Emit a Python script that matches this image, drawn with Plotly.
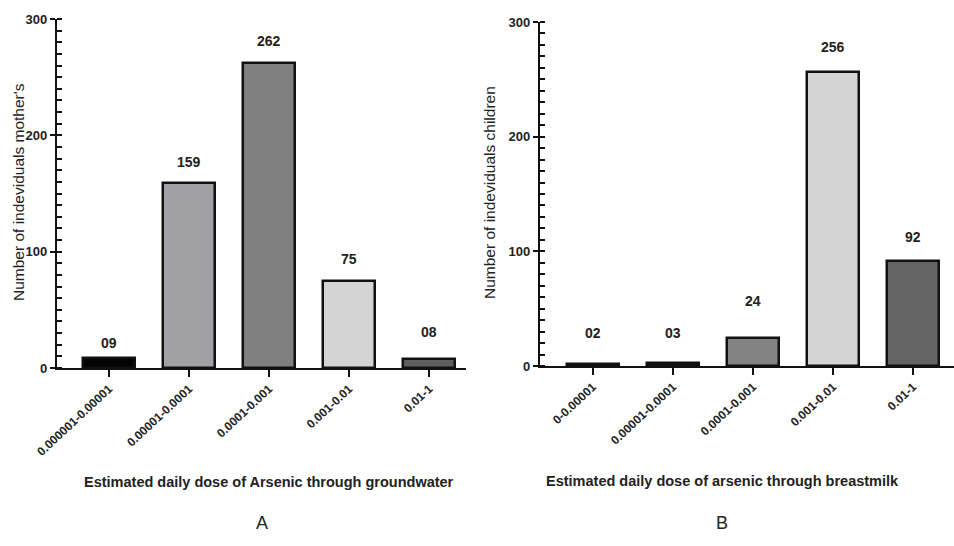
import plotly.graph_objects as go

# Panel A
cats_a = ["0.000001-0.00001", "0.00001-0.0001", "0.0001-0.001", "0.001-0.01", "0.01-1"]
vals_a = [9, 159, 262, 75, 8]
labels_a = ["09", "159", "262", "75", "08"]
colors_a = ["#050505", "#a1a1a5", "#808080", "#d4d4d4", "#5f5f5f"]

# Panel B
cats_b = ["0-0.00001", "0.00001-0.0001", "0.0001-0.001", "0.001-0.01", "0.01-1"]
vals_b = [2, 3, 24, 256, 92]
labels_b = ["02", "03", "24", "256", "92"]
colors_b = ["#1a1a1a", "#111111", "#828282", "#d4d4d4", "#646464"]

yticks = [0, 100, 200, 300]

# label offsets above bar tops (pixels) - styling only
shift_a = [15, 21, 22, 22, 27]
shift_b = [31, 30, 37, 25, 24]

FONT = "Liberation Sans, Arial, sans-serif"

fig = go.Figure()
fig.add_trace(go.Bar(x=cats_a, y=vals_a, marker=dict(color=colors_a, line=dict(color="#111", width=2.5)),
                     width=0.65, xaxis="x", yaxis="y", showlegend=False, hoverinfo="skip"))
fig.add_trace(go.Bar(x=cats_b, y=vals_b, marker=dict(color=colors_b, line=dict(color="#111", width=2.5)),
                     width=0.65, xaxis="x2", yaxis="y2", showlegend=False, hoverinfo="skip"))

W, H = 954, 546
def px(v): return v / W
def py(v): return 1 - v / H

xa_common = dict(type="category", showline=True, linecolor="#111", linewidth=2.4, automargin=False,
                 ticks="outside", ticklen=7, tickwidth=2.4, tickcolor="#111",
                 tickangle=-43, tickfont=dict(family=FONT, size=12, color="#222", weight="bold"),
                 showgrid=False, zeroline=False, fixedrange=True)
ya_common = dict(range=[0, 300], tickvals=yticks, showline=True, linecolor="#111", linewidth=2.4, automargin=False,
                 ticks="outside", ticklen=5, tickwidth=2.4, tickcolor="#111",
                 tickfont=dict(family=FONT, size=13, color="#222", weight="bold"),
                 minor=dict(dtick=10, ticks="inside", ticklen=5, tickwidth=1.8, tickcolor="#111"),
                 showgrid=False, zeroline=False, fixedrange=True)

fig.update_layout(
    template="none",
    width=W, height=H, margin=dict(l=0, r=0, t=0, b=0, autoexpand=False),
    paper_bgcolor="white", plot_bgcolor="white", bargap=0,
    xaxis=dict(domain=[px(57), px(466)], range=[-0.65, 4.46], anchor="y", **xa_common),
    yaxis=dict(domain=[py(368), py(19)], anchor="x", **ya_common),
    xaxis2=dict(domain=[px(540), 1.0], range=[-0.66, 4.51], anchor="y2", **xa_common),
    yaxis2=dict(domain=[py(366), py(22)], anchor="x2", **ya_common),
)

ann = []
for c, v, t, s in zip(cats_a, vals_a, labels_a, shift_a):
    ann.append(dict(x=c, y=v, xref="x", yref="y", text=t, showarrow=False, xanchor="center", yanchor="middle",
                    yshift=s, font=dict(family=FONT, size=14, color="#222", weight="bold")))
for c, v, t, s in zip(cats_b, vals_b, labels_b, shift_b):
    ann.append(dict(x=c, y=v, xref="x2", yref="y2", text=t, showarrow=False, xanchor="center", yanchor="middle",
                    yshift=s, font=dict(family=FONT, size=14, color="#222", weight="bold")))

def txt(x, y, text, size, weight="normal", angle=0):
    return dict(x=px(x), y=py(y), xref="paper", yref="paper", text=text, showarrow=False,
                xanchor="center", yanchor="middle", textangle=angle,
                font=dict(family=FONT, size=size, color="#222", weight=weight))

ann += [
    txt(269, 482, "Estimated daily dose of Arsenic through groundwater", 14.5, "bold"),
    txt(722, 481, "Estimated daily dose of arsenic through breastmilk", 14.5, "bold"),
    txt(262, 523, "A", 18),
    txt(722, 523, "B", 18),
    txt(18, 192, "Number of indeviduals mother's", 15.5, angle=-90),
    txt(489, 193, "Number of indeviduals children", 15.5, angle=-90),
]
fig.update_layout(annotations=ann)

fig.write_html("out.html", config={"displayModeBar": False},
               post_script="document.body.style.margin='0';document.body.style.overflow='hidden';")
